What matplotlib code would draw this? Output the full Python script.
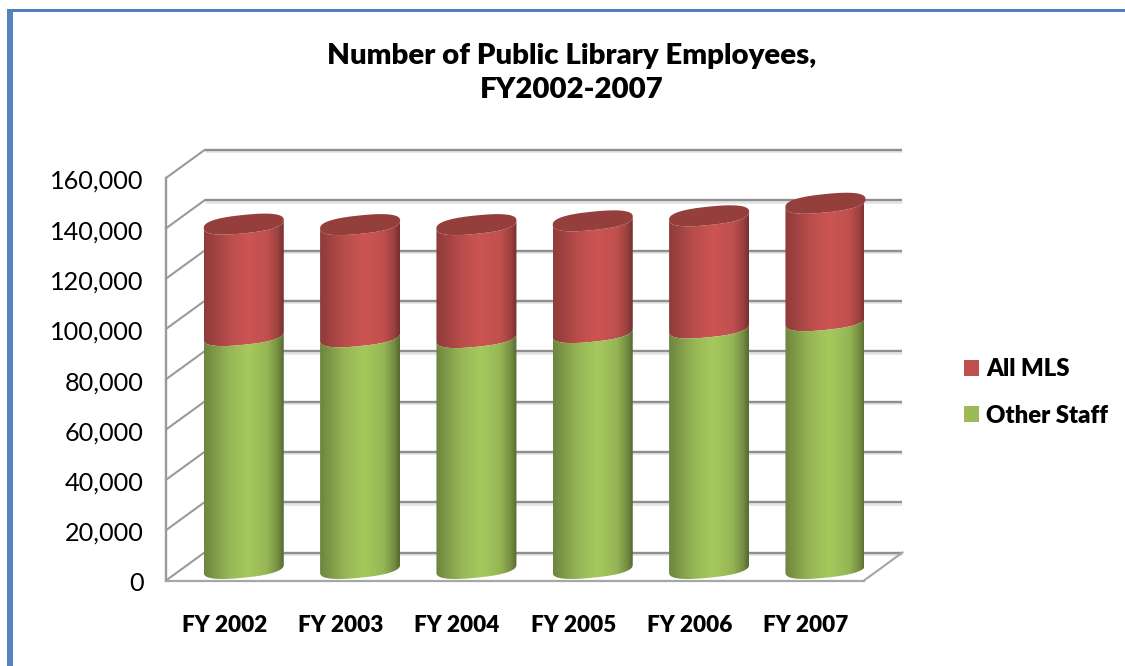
#!/usr/bin/env python3
import numpy as np
import matplotlib
matplotlib.use("Agg")
import matplotlib.pyplot as plt
import matplotlib.transforms as mtransforms
from matplotlib.colors import LinearSegmentedColormap
from matplotlib.patches import Patch, Polygon, Rectangle

plt.rcParams["font.family"] = ["Lato", "DejaVu Sans"]

years = ["FY 2002", "FY 2003", "FY 2004", "FY 2005", "FY 2006", "FY 2007"]
other_staff = [92600, 92100, 91800, 93800, 95600, 98500]
all_mls = [44300, 44600, 44900, 44400, 44600, 46700]
y_ticks = [0, 20000, 40000, 60000, 80000, 100000, 120000, 140000, 160000]
y_labels = ["0", "20,000", "40,000", "60,000", "80,000", "100,000", "120,000", "140,000", "160,000"]

W, H = 1125, 666
LEFT, RIGHT, TOP, BOTTOM = 166, 864, 178, 580.5
PX_X = (RIGHT - LEFT) / 6.0          # pixels per category
PX_Y = (BOTTOM - TOP) / 160000.0     # pixels per employee

def px_dx(p):
    return p / PX_X

def px_dy(p):
    return p / PX_Y

def shade(base, stops):
    base = np.array(matplotlib.colors.to_rgb(base))
    pos = [0, 0.1, 0.3, 0.55, 0.8, 0.93, 1.0]
    return LinearSegmentedColormap.from_list("c", [(p, tuple(np.clip(base * s, 0, 1))) for p, s in zip(pos, stops)])

RED_MAP = shade("#cc5553", [0.70, 0.76, 0.90, 1.0, 0.94, 0.76, 0.56])
GREEN_MAP = shade("#a6c95e", [0.66, 0.74, 0.90, 1.0, 0.90, 0.70, 0.52])

fig = plt.figure(figsize=(W / 100, H / 100), dpi=100)
ax = fig.add_axes([LEFT / W, 1 - BOTTOM / H, (RIGHT - LEFT) / W, (BOTTOM - TOP) / H])
ax.set_facecolor("none")

# blue page frame
fig.add_artist(Rectangle((7 / W, 0), 5.5 / W, 1 - 9 / H, transform=fig.transFigure, color="#5585bf", lw=0))
fig.add_artist(Rectangle((7 / W, 1 - 12 / H), 1 - 7 / W, 3 / H, transform=fig.transFigure, color="#4f81bd", lw=0))

# walls: back plane sits 38.5 px right and 28 px up from the front plane
wall_dx, wall_dy = px_dx(38.5), px_dy(28)
x0 = -0.5
x1 = 5.5

def grid_line(xs, ys, z=1):
    # soft shadow under each rule, then the rule itself
    sx = np.array(xs)
    sy = np.array(ys) - px_dy(1.5)
    ax.plot(sx, sy, color="#e6e6e6", lw=2.0, clip_on=False, zorder=z, solid_capstyle="butt")
    ax.plot(xs, ys, color="#8f8f8f", lw=1.7, clip_on=False, zorder=z + 0.1, solid_capstyle="butt")

for v in y_ticks:
    grid_line([x0 + wall_dx, x1 + wall_dx], [v + wall_dy, v + wall_dy])
    ax.plot([x0, x0 + wall_dx], [v, v + wall_dy], color="#9a9a9a", lw=1.5, clip_on=False, zorder=1)
ax.plot([x0, x0], [0, 160000], color="#9a9a9a", lw=1.7, clip_on=False, zorder=1.2)
ax.plot([x0, x1], [0, 0], color="#a6a6a6", lw=1.6, clip_on=False, zorder=1.2)
ax.plot([x1, x1 + wall_dx], [0, wall_dy], color="#a6a6a6", lw=1.5, clip_on=False, zorder=1.2)

# cylinders sit just under 20 px right and 12 px up from the front plane
bar_dx, bar_dy = px_dx(19.6), px_dy(12)
half = px_dx(40)
t = np.linspace(0, 2 * np.pi, 181)

def ellipse(cx, level, part="full"):
    # tilted, slightly squared ellipse: left end is lower than the right end
    if part == "full":
        tt = t
    else:
        tt = np.linspace(np.pi, 2 * np.pi, 91)
    c = np.sign(np.cos(tt)) * np.abs(np.cos(tt)) ** 0.8
    s = np.sign(np.sin(tt)) * np.abs(np.sin(tt)) ** 0.8
    xs = cx + half * c
    ys = level + px_dy(4) * c + px_dy(9.2) * s
    return xs, ys

def side(cx, low, high, cmap, z):
    xs_top, ys_top = ellipse(cx, high, "lower")
    xs_low, ys_low = ellipse(cx, low, "lower")
    verts = np.column_stack([np.r_[xs_low, xs_top[::-1]], np.r_[ys_low, ys_top[::-1]]])
    im = ax.imshow(np.linspace(0, 1, 256)[None, :], extent=[cx - half, cx + half, low - px_dy(12), high + px_dy(6)],
                   cmap=cmap, vmin=0, vmax=1, aspect="auto", zorder=z, clip_on=True, interpolation="bilinear")
    im.set_clip_path(Polygon(verts, transform=ax.transData))

for i in range(len(years)):
    cx = i + bar_dx
    seam = other_staff[i] + bar_dy
    top = other_staff[i] + all_mls[i] + bar_dy
    side(cx, bar_dy, seam, GREEN_MAP, 3)
    side(cx, seam, top, RED_MAP, 2.9)
    xs, ys = ellipse(cx, top)
    ax.fill(xs, ys, color="#953f3c", lw=0, zorder=3.2, clip_on=False)

ax.set_xlim(x0, x1)
ax.set_ylim(0, 160000)
ax.set_xticks(range(len(years)))
ax.set_xticklabels(years, fontsize=16.2, fontweight="heavy")
ax.set_yticks(y_ticks)
ax.set_yticklabels(y_labels, fontsize=18.2)
ax.tick_params(axis="x", length=0, pad=25)
ax.tick_params(axis="y", length=0, pad=16)
# nudge value labels down a little so they sit on their rules
nudge = mtransforms.ScaledTranslation(0, -1 / 72, fig.dpi_scale_trans)
for lab in ax.get_yticklabels():
    lab.set_transform(lab.get_transform() + nudge)
for s in ax.spines.values():
    s.set_visible(False)

fig.text(572 / W, 1 - 73 / H, "Number of Public Library Employees,\nFY2002-2007", ha="center", va="center",
         fontsize=21.2, fontweight="heavy", linespacing=1.42)

handles = [Patch(color="#c0504d", lw=0, label="All MLS"), Patch(color="#9bbb59", lw=0, label="Other Staff")]
fig.legend(handles=handles, loc="center left", bbox_to_anchor=(957 / W, 1 - 392.5 / H), frameon=False,
           prop={"size": 17.2, "weight": "heavy"}, handlelength=0.63, handleheight=0.63,
           handletextpad=0.3, labelspacing=1.02, borderpad=0, borderaxespad=0.3)

fig.savefig("out.png", dpi=100)
